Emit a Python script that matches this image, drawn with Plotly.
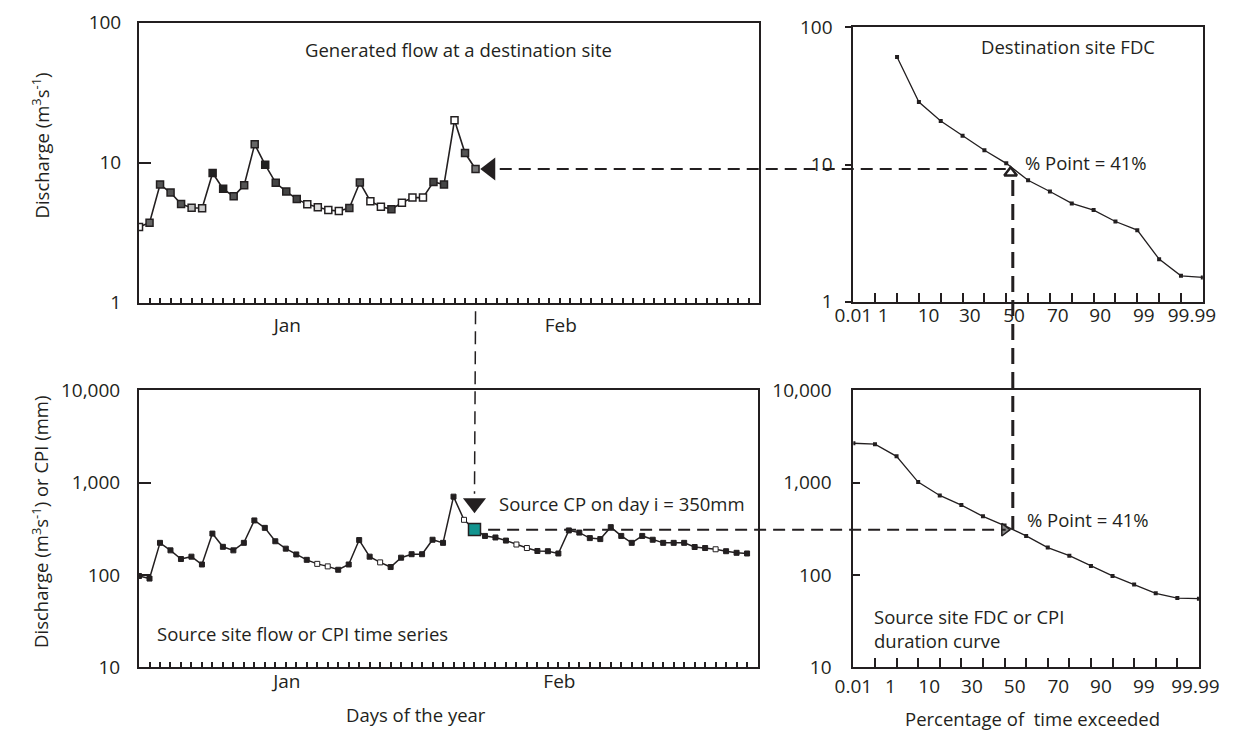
import math
import plotly.graph_objects as go

# ---------------- data ----------------
# Generated flow at a destination site (days of Jan/Feb)
dest_days = list(range(33))
dest_flow = [3.47, 3.72, 6.97, 6.11, 5.05, 4.76, 4.72, 8.43, 6.49, 5.74,
             6.90, 13.5, 9.64, 7.17, 6.21, 5.50, 5.03, 4.79, 4.59, 4.50,
             4.74, 7.20, 5.30, 4.84, 4.65, 5.16, 5.62, 5.62, 7.28, 6.97,
             20.1, 11.7, 9.0]

# Source site flow or CPI time series
source_days = list(range(59))
source_flow = [97.6, 91.5, 223, 185, 149, 158, 130, 281, 202, 185,
               223, 390, 324, 232, 193, 167, 146, 132, 124, 114,
               130, 239, 158, 137, 122, 154, 168, 168, 241, 223,
               706, 396, 312, 265, 255, 236, 214, 196, 182, 181,
               171, 304, 288, 251, 245, 330, 265, 223, 265, 241,
               223, 223, 223, 201, 196, 190, 181, 174, 171]

# Flow duration curves (positions along the probability axis)
dest_fdc_pos = list(range(2, 17))
dest_fdc = [60.8, 28.6, 20.8, 16.2, 12.7, 10.2, 7.68, 6.35, 5.20, 4.65,
            3.84, 3.32, 2.04, 1.54, 1.50]
source_fdc_pos = list(range(17))
source_fdc = [2673, 2612, 1928, 1016, 727, 572, 432, 343, 265, 198,
              162, 125, 97.7, 78.7, 63.4, 56.2, 55.4]

prob_labels = ["0.01", "1", "10", "30", "50", "70", "90", "99", "99.99"]
month_labels = ["Jan", "Feb"]

day_i = 32
dest_value_day_i = 9.0
source_cp_day_i = 310
pct_point_pos = 7.25

# ---------------- layout helpers ----------------
W, H = 1248, 745
INK = "#231f20"
FONT = "Open Sans"


def dom_x(a, b):
    return [a / W, b / W]


def dom_y(top, bot):
    return [1 - bot / H, 1 - top / H]


TL_X, TL_Y = dom_x(124, 765), dom_y(10, 300)
TR_X, TR_Y = dom_x(862, 1223), dom_y(15, 299)
BL_X, BL_Y = dom_x(124, 763), dom_y(391, 678)
BR_X, BR_Y = dom_x(862, 1219), dom_y(391, 678)
DAY_RANGE = [0, 59]
PROB_RANGE = [0, 16]
TOP_LOG = [0, 2]
BOT_LOG = [1, 4]


def px(dom, rng, v):
    return dom[0] + (v - rng[0]) / (rng[1] - rng[0]) * (dom[1] - dom[0])


def py(dom, rng, v):
    return dom[0] + (math.log10(v) - rng[0]) / (rng[1] - rng[0]) * (dom[1] - dom[0])


fig = go.Figure()

# ---------------- traces ----------------
dest_fill = ["white", "#666", "#555", "#555", "#555", "#bbb", "#ccc", "#222", "#222", "#555",
             "#555", "#666", "#222", "#444", "#444", "#444", "#eee", "#ddd", "white", "white",
             "#555", "#555", "white", "white", "#444", "white", "white", "white", "#444", "#444",
             "white", "#555", "#777"]
fig.add_trace(go.Scatter(x=dest_days, y=dest_flow, mode="lines+markers",
                         line=dict(color=INK, width=1.6),
                         marker=dict(symbol="square", size=7, color=dest_fill,
                                     line=dict(color=INK, width=1.5)),
                         xaxis="x", yaxis="y", showlegend=False))
fig.add_trace(go.Scatter(x=[day_i + 1.4], y=[dest_value_day_i], mode="markers",
                         marker=dict(symbol="triangle-left", size=20, color=INK),
                         xaxis="x", yaxis="y", showlegend=False))

src_fill = [INK] * len(source_days)
for k in (17, 18, 23, 31, 36, 37, 55):
    src_fill[k] = "white"
fig.add_trace(go.Scatter(x=source_days, y=source_flow, mode="lines+markers",
                         line=dict(color=INK, width=1.5),
                         marker=dict(symbol="square", size=5, color=src_fill,
                                     line=dict(color=INK, width=1)),
                         xaxis="x3", yaxis="y3", showlegend=False))
fig.add_trace(go.Scatter(x=[day_i], y=[source_flow[day_i]], mode="markers",
                         marker=dict(symbol="square", size=12, color="#12948f",
                                     line=dict(color=INK, width=1.5)),
                         xaxis="x3", yaxis="y3", showlegend=False))
fig.add_trace(go.Scatter(x=[day_i], y=[600], mode="markers",
                         marker=dict(symbol="triangle-down", size=20, color=INK),
                         xaxis="x3", yaxis="y3", showlegend=False))

fig.add_trace(go.Scatter(x=dest_fdc_pos, y=dest_fdc, mode="lines+markers",
                         line=dict(color=INK, width=1.3),
                         marker=dict(symbol="square", size=4, color=INK),
                         xaxis="x2", yaxis="y2", showlegend=False))
fig.add_trace(go.Scatter(x=[pct_point_pos - 0.05], y=[8.7], mode="markers",
                         marker=dict(symbol="triangle-up", size=11, color="white",
                                     line=dict(color=INK, width=2.5)),
                         xaxis="x2", yaxis="y2", showlegend=False))

fig.add_trace(go.Scatter(x=source_fdc_pos, y=source_fdc, mode="lines+markers",
                         line=dict(color=INK, width=1.3),
                         marker=dict(symbol="square", size=4, color=INK),
                         xaxis="x4", yaxis="y4", showlegend=False))
fig.add_trace(go.Scatter(x=[pct_point_pos - 0.25], y=[source_cp_day_i], mode="markers",
                         marker=dict(symbol="triangle-right", size=11, color="#888",
                                     line=dict(color=INK, width=1.5)),
                         xaxis="x4", yaxis="y4", showlegend=False))

# ---------------- axes ----------------
tickfont = dict(family=FONT, size=19, color=INK)
frame = dict(showline=True, mirror=True, linecolor=INK, linewidth=2,
             showgrid=False, zeroline=False)


def day_axis(standoff):
    return dict(frame, range=DAY_RANGE, tickmode="array", tickvals=[14.1, 40.1],
                ticktext=month_labels, ticks="inside", ticklen=0, tickfont=tickfont,
                ticklabelstandoff=standoff,
                minor=dict(tickvals=list(range(1, 59)), ticks="inside", ticklen=5,
                           tickwidth=2, tickcolor=INK))


top_prob_pos = [0, 1.36, 3.44, 5.33, 7.36, 9.36, 11.3, 13.3, 15.5]
bot_prob_pos = [0, 1.72, 3.51, 5.49, 7.47, 9.49, 11.46, 13.45, 15.84]


def prob_axis(pos, standoff):
    return dict(frame, range=PROB_RANGE, tickmode="array", tickvals=pos,
                ticktext=prob_labels, ticks="inside", ticklen=0, tickfont=tickfont,
                ticklabelstandoff=standoff,
                minor=dict(tickvals=list(range(1, 16)), ticks="inside", ticklen=9,
                           tickwidth=2, tickcolor=INK))


fig.update_layout(
    xaxis=dict(day_axis(5), domain=TL_X, anchor="y"),
    yaxis=dict(frame, type="log", range=TOP_LOG, domain=TL_Y, anchor="x",
               tickvals=[1, 10, 100], ticktext=["1", "10", "100"], ticks="inside",
               ticklen=12, tickwidth=2, tickcolor=INK, tickfont=tickfont,
               ticklabelstandoff=12),
    xaxis2=dict(prob_axis(top_prob_pos, -4), domain=TR_X, anchor="y2"),
    yaxis2=dict(frame, type="log", range=TOP_LOG, domain=TR_Y, anchor="x2",
                tickvals=[1, 10, 100], ticktext=["1", "10", "100"], ticks="outside",
                ticklen=6, tickwidth=2, tickcolor=INK, tickfont=tickfont,
                ticklabelstandoff=9),
    xaxis3=dict(day_axis(-4), domain=BL_X, anchor="y3"),
    yaxis3=dict(frame, type="log", range=BOT_LOG, domain=BL_Y, anchor="x3",
                tickvals=[10, 100, 1000, 10000],
                ticktext=["10", "100", "1,000", "10,000"], ticks="inside",
                ticklen=12, tickwidth=2, tickcolor=INK, tickfont=tickfont,
                ticklabelstandoff=13),
    xaxis4=dict(prob_axis(bot_prob_pos, 1), domain=BR_X, anchor="y4"),
    yaxis4=dict(frame, type="log", range=BOT_LOG, domain=BR_Y, anchor="x4",
                tickvals=[10, 100, 1000, 10000],
                ticktext=["10", "100", "1,000", "10,000"], ticks="inside",
                ticklen=7, tickwidth=2, tickcolor=INK, tickfont=tickfont,
                ticklabelstandoff=16),
    width=W, height=H, margin=dict(l=0, r=0, t=0, b=0),
    paper_bgcolor="white", plot_bgcolor="white",
)

# ---------------- connector lines ----------------
shapes = [
    # destination flow on day i -> destination FDC
    dict(type="line", xref="paper", yref="paper",
         x0=px(TL_X, DAY_RANGE, day_i + 2.3), x1=px(TR_X, PROB_RANGE, pct_point_pos - 0.15),
         y0=py(TL_Y, TOP_LOG, dest_value_day_i), y1=py(TL_Y, TOP_LOG, dest_value_day_i),
         line=dict(color=INK, width=2, dash="12px,7px")),
    # day i down to source series
    dict(type="line", xref="paper", yref="paper",
         x0=px(TL_X, DAY_RANGE, day_i), x1=px(BL_X, DAY_RANGE, day_i),
         y0=TL_Y[0] - 9 / H, y1=py(BL_Y, BOT_LOG, 760),
         line=dict(color=INK, width=1.5, dash="13px,7px")),
    # % point down to source FDC
    dict(type="line", xref="paper", yref="paper",
         x0=px(TR_X, PROB_RANGE, pct_point_pos + 0.05), x1=px(TR_X, PROB_RANGE, pct_point_pos + 0.05),
         y0=py(TR_Y, TOP_LOG, 7.7), y1=py(BR_Y, BOT_LOG, source_cp_day_i),
         line=dict(color=INK, width=3, dash="16px,8px")),
    # source FDC back to source series
    dict(type="line", xref="paper", yref="paper",
         x0=px(BL_X, DAY_RANGE, day_i + 1.3), x1=px(BR_X, PROB_RANGE, pct_point_pos - 0.2),
         y0=py(BL_Y, BOT_LOG, source_cp_day_i), y1=py(BL_Y, BOT_LOG, source_cp_day_i),
         line=dict(color=INK, width=2, dash="12px,7px")),
]
fig.update_layout(shapes=shapes)

# ---------------- text ----------------
afont = dict(family=FONT, size=18.5, color=INK)


def note(text, x, y, xanchor="left", angle=0, align="left"):
    fig.add_annotation(text=text, x=x / W, y=1 - y / H, xref="paper", yref="paper",
                       xanchor=xanchor, yanchor="middle", showarrow=False,
                       font=afont, textangle=angle, align=align)


note("Generated flow at a destination site", 454, 38, "center")
note("Destination site FDC", 1084, 35, "center")
note("% Point = 41%", 1037, 155)
note("Source CP on day i = 350mm", 494, 508)
note("Source site flow or CPI time series", 141, 643)
note("% Point = 41%", 1039, 525)
note("Source site FDC or CPI<br>duration curve", 881, 638)
note("Days of the year", 410, 727, "center")
note("Percentage of\u00a0 time exceeded", 1047, 731, "center")
note("Discharge (m<sup>3</sup>s<sup>-1</sup>)", 22, 137, "center", -90)
note("Discharge (m<sup>3</sup>s<sup>-1</sup>) or CPI (mm)", 22, 527, "center", -90)

fig.write_html("out.html")
